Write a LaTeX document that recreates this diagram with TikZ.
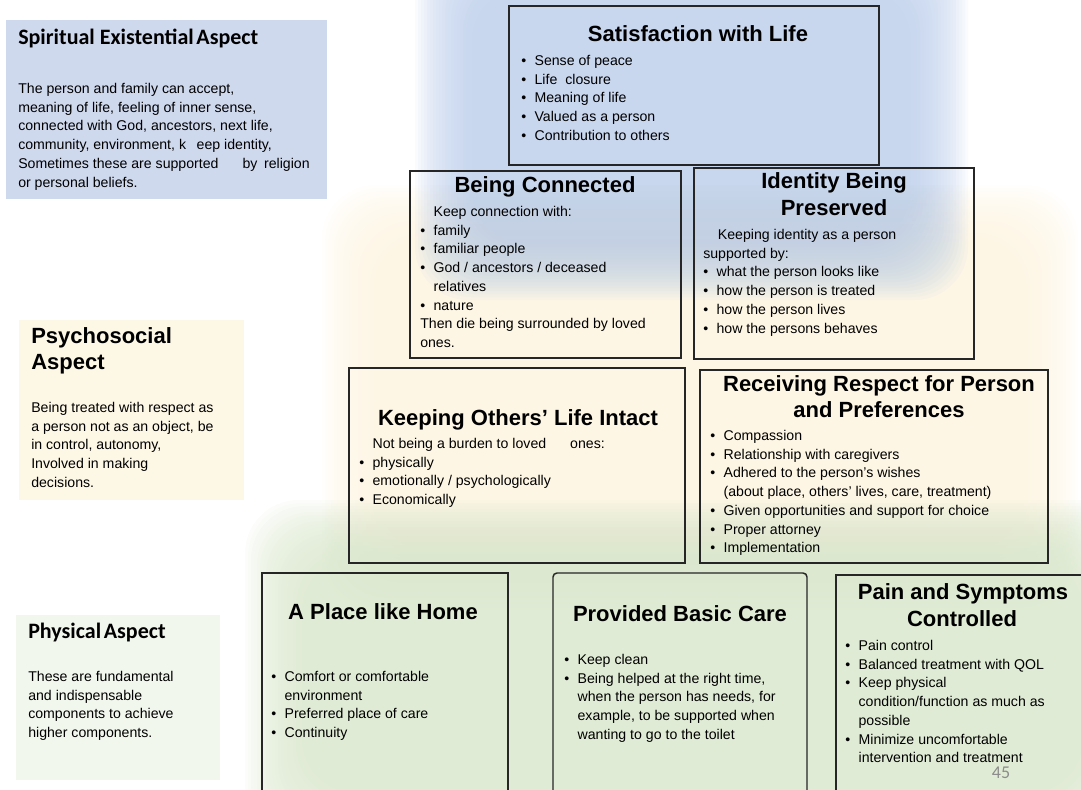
\documentclass[tikz,border=0pt]{standalone}
\usepackage{fontspec}
\setmainfont{Liberation Sans}
\newfontfamily\calfont{Carlito}
\definecolor{spiritblue}{RGB}{207,217,238}
\definecolor{psycream}{RGB}{253,247,230}
\definecolor{physgreen}{RGB}{242,247,238}
\definecolor{glowblue}{RGB}{189,206,235}
\definecolor{glowcream}{RGB}{253,244,223}
\definecolor{glowgreen}{RGB}{218,231,205}
\newcommand\bodyfont{\fontsize{10.6pt}{14pt}\selectfont}
\newcommand\headfont{\bfseries\fontsize{16.5pt}{19pt}\selectfont}
\newcommand\aspfont{\calfont\bfseries\fontsize{16.5pt}{19pt}\selectfont}
\newcommand\bul{\makebox[10pt][l]{\textbullet}}
\newcommand\nob{\hspace*{10pt}}
\newcommand\lsp{18.75}
% soft coloured band: colour, x1, y1, x2, y2
\newcommand\glow[5]{%
  \foreach \k in {0,...,19}
    \fill[#1, fill opacity=0.085, rounded corners=40pt] ({#2+\k*3},{#3+\k*3}) rectangle ({#4-\k*3},{#5-\k*3});
}
\tikzset{
  pbox/.style={draw=black!85, line width=1.1pt},
  head/.style={font=\headfont, inner sep=0pt, text height=1.5ex, text depth=.25ex},
  asp/.style={anchor=west, font=\aspfont, inner sep=0pt, text height=1.5ex, text depth=.25ex},
  txt/.style={anchor=west, font=\bodyfont, inner sep=0pt, text height=1.5ex, text depth=.25ex},
}
\begin{document}
\begin{tikzpicture}[x=0.75pt,y=-0.75pt]
		\useasboundingbox (0,0) rectangle (1081,789);
		\clip (0,0) rectangle (1081,789);
		\glow{glowcream}{322}{185}{1078}{610}
		\glow{glowgreen}{245}{500}{1140}{850}
		\glow{glowblue}{415}{-70}{968}{300}
		% aspects
		\fill[spiritblue] (6,20) rectangle (327,199);
		\fill[psycream] (19,320) rectangle (244,500);
		\fill[physgreen] (16,615) rectangle (220,780);
		\node[asp] (spiT) at (18,40) {Spiritual Existential\hspace{2pt}Aspect};
		\foreach \t [count=\i] in {{The person and family can accept,}, {meaning of life, feeling of inner sense,}, {connected with God, ancestors, next life,}, {community, environment, k\hspace{8pt}eep identity,}, {Sometimes these are supported\hspace{18pt}by\hspace{5pt}religion}, {or personal beliefs.}}
			\node[txt] (spi\i) at (18,{89+(\i-1)*\lsp}) {\t};
		\node[asp, font=\headfont] (psyT1) at (31,339) {Psychosocial};
		\node[asp, font=\headfont] (psyT2) at (31,365) {Aspect};
		\foreach \t [count=\i] in {{Being treated with respect as}, {a person not as an object, be}, {in control, autonomy,}, {Involved in making}, {decisions.}}
			\node[txt] (psy\i) at (31,{408+(\i-1)*\lsp}) {\t};
		\node[asp] (phyT) at (28,634) {Physical\hspace{2pt}Aspect};
		\foreach \t [count=\i] in {{These are fundamental}, {and indispensable}, {components to achieve}, {higher components.}}
			\node[txt] (phy\i) at (28,{677+(\i-1)*\lsp}) {\t};
		% pyramid boxes
		\foreach \a/\b/\c/\d in {509/6/879/165, 410/171/681/358, 694/168/974/359, 349/368/685/563, 700/370/1048/563, 262/573/508/800, 836/575/1100/800}
			\draw[pbox] (\a,\b) rectangle (\c,\d);
		\draw[pbox, rounded corners=3pt] (553,573) rectangle (807,800);
		\node[head] (satT) at (698,37) {Satisfaction with Life};
		\foreach \t [count=\i] in {{Sense of peace}, {Life\hspace{3pt} closure}, {Meaning of life}, {Valued as a person}, {Contribution to others}}
			\node[txt] (sat\i) at (521,{61+(\i-1)*\lsp}) {\bul\t};
		\node[head] (conT) at (545,188) {Being Connected};
		\foreach \t [count=\i] in {{\nob Keep connection with:}, {\bul family}, {\bul familiar people}, {\bul God / ancestors / deceased}, {\nob relatives}, {\bul nature}, {Then die being surrounded by loved}, {ones.}}
			\node[txt] (con\i) at (420,{212+(\i-1)*\lsp}) {\t};
		\node[head] (idnT1) at (834,184) {Identity Being};
		\node[head] (idnT2) at (834,211) {Preserved};
		\foreach \t [count=\i] in {{\hspace*{11pt}Keeping identity as a person}, {supported by:}, {\bul what the person looks like}, {\bul how the person is treated}, {\bul how the person lives}, {\bul how the persons behaves}}
			\node[txt] (idn\i) at (703,{235+(\i-1)*\lsp}) {\t};
		\node[head] (othT) at (518,421) {Keeping Others’ Life Intact};
		\foreach \t [count=\i] in {{\nob Not being a burden to loved\hspace{18pt}ones:}, {\bul physically}, {\bul emotionally / psychologically}, {\bul Economically}}
			\node[txt] (oth\i) at (359,{444+(\i-1)*\lsp}) {\t};
		\node[head] (resT1) at (879,387) {Receiving Respect for Person};
		\node[head] (resT2) at (879,413) {and Preferences};
		\foreach \t [count=\i] in {{\bul Compassion}, {\bul Relationship with caregivers}, {\bul Adhered to the person’s wishes}, {\nob (about place, others’ lives, care, treatment)}, {\bul Given opportunities and support for choice}, {\bul Proper attorney}, {\bul Implementation}}
			\node[txt] (res\i) at (710,{436+(\i-1)*\lsp}) {\t};
		\node[head] (homT) at (383,615) {A Place like Home};
		\foreach \t [count=\i] in {{\bul Comfort or comfortable}, {\nob environment}, {\bul Preferred place of care}, {\bul Continuity}}
			\node[txt] (hom\i) at (271,{677+(\i-1)*\lsp}) {\t};
		\node[head] (carT) at (680,617) {Provided Basic Care};
		\foreach \t [count=\i] in {{\bul Keep clean}, {\bul Being helped at the right time,}, {\nob when the person has needs, for}, {\nob example, to be supported when}, {\nob wanting to go to the toilet}}
			\node[txt] (car\i) at (564,{660+(\i-1)*\lsp}) {\t};
		\node[head] (painT1) at (963,595) {Pain and Symptoms};
		\node[head] (painT2) at (962,622) {Controlled};
		\foreach \t [count=\i] in {{\bul Pain control}, {\bul Balanced treatment with QOL}, {\bul Keep physical}, {\nob condition/function as much as}, {\nob possible}, {\bul Minimize uncomfortable}, {\nob intervention and treatment}}
			\node[txt] (pain\i) at (845,{646+(\i-1)*\lsp}) {\t};
		\node[font=\calfont\fontsize{13.5pt}{16pt}\selectfont, text=black!45, inner sep=0pt] (pgnum) at (1001,773) {45};
		\end{tikzpicture}
\end{document}
